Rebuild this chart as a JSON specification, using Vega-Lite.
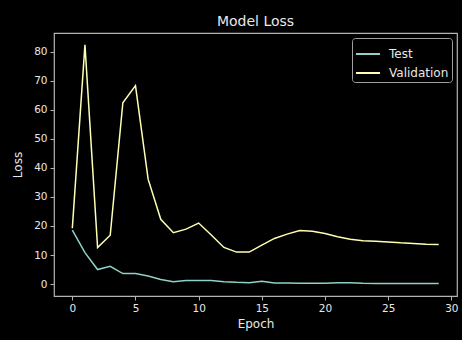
{
  "$schema": "https://vega.github.io/schema/vega-lite/v6.json",
  "autosize": {"type": "none"},
  "padding": {"left": 54, "top": 33, "right": 5, "bottom": 44},
  "width": 403,
  "height": 263,
  "background": "#000000",
  "title": {"text": "Model Loss", "color": "#e8e8e8", "font": "DejaVu Sans", "fontSize": 14, "fontWeight": "normal", "offset": 4},
  "config": {
    "view": {"stroke": "#b4b4b4", "strokeWidth": 1.2, "fill": "#000000"},
    "axis": {
      "domain": false, "grid": false,
      "tickColor": "#b4b4b4", "tickSize": 4, "tickWidth": 1,
      "labelColor": "#e8e8e8", "labelFont": "DejaVu Sans", "labelFontSize": 10.5,
      "titleColor": "#e8e8e8", "titleFont": "DejaVu Sans", "titleFontSize": 12, "titleFontWeight": "normal"
    }
  },
  "data": {
    "values": [
      {"epoch": 0, "series": "Test", "loss": 18.6},
      {"epoch": 1, "series": "Test", "loss": 10.8},
      {"epoch": 2, "series": "Test", "loss": 5.0},
      {"epoch": 3, "series": "Test", "loss": 6.1},
      {"epoch": 4, "series": "Test", "loss": 3.6},
      {"epoch": 5, "series": "Test", "loss": 3.6},
      {"epoch": 6, "series": "Test", "loss": 2.8},
      {"epoch": 7, "series": "Test", "loss": 1.6},
      {"epoch": 8, "series": "Test", "loss": 0.8},
      {"epoch": 9, "series": "Test", "loss": 1.2},
      {"epoch": 10, "series": "Test", "loss": 1.2},
      {"epoch": 11, "series": "Test", "loss": 1.2},
      {"epoch": 12, "series": "Test", "loss": 0.8},
      {"epoch": 13, "series": "Test", "loss": 0.6},
      {"epoch": 14, "series": "Test", "loss": 0.5},
      {"epoch": 15, "series": "Test", "loss": 1.0},
      {"epoch": 16, "series": "Test", "loss": 0.4},
      {"epoch": 17, "series": "Test", "loss": 0.4},
      {"epoch": 18, "series": "Test", "loss": 0.3},
      {"epoch": 19, "series": "Test", "loss": 0.3},
      {"epoch": 20, "series": "Test", "loss": 0.3},
      {"epoch": 21, "series": "Test", "loss": 0.5},
      {"epoch": 22, "series": "Test", "loss": 0.5},
      {"epoch": 23, "series": "Test", "loss": 0.3},
      {"epoch": 24, "series": "Test", "loss": 0.2},
      {"epoch": 25, "series": "Test", "loss": 0.2},
      {"epoch": 26, "series": "Test", "loss": 0.2},
      {"epoch": 27, "series": "Test", "loss": 0.2},
      {"epoch": 28, "series": "Test", "loss": 0.2},
      {"epoch": 29, "series": "Test", "loss": 0.2},
      {"epoch": 0, "series": "Validation", "loss": 19.2},
      {"epoch": 1, "series": "Validation", "loss": 82.3},
      {"epoch": 2, "series": "Validation", "loss": 12.6},
      {"epoch": 3, "series": "Validation", "loss": 16.8},
      {"epoch": 4, "series": "Validation", "loss": 62.4},
      {"epoch": 5, "series": "Validation", "loss": 68.3},
      {"epoch": 6, "series": "Validation", "loss": 36.1},
      {"epoch": 7, "series": "Validation", "loss": 22.3},
      {"epoch": 8, "series": "Validation", "loss": 17.7},
      {"epoch": 9, "series": "Validation", "loss": 18.9},
      {"epoch": 10, "series": "Validation", "loss": 21.0},
      {"epoch": 11, "series": "Validation", "loss": 16.9},
      {"epoch": 12, "series": "Validation", "loss": 12.6},
      {"epoch": 13, "series": "Validation", "loss": 11.0},
      {"epoch": 14, "series": "Validation", "loss": 11.0},
      {"epoch": 15, "series": "Validation", "loss": 13.4},
      {"epoch": 16, "series": "Validation", "loss": 15.7},
      {"epoch": 17, "series": "Validation", "loss": 17.2},
      {"epoch": 18, "series": "Validation", "loss": 18.4},
      {"epoch": 19, "series": "Validation", "loss": 18.2},
      {"epoch": 20, "series": "Validation", "loss": 17.4},
      {"epoch": 21, "series": "Validation", "loss": 16.3},
      {"epoch": 22, "series": "Validation", "loss": 15.4},
      {"epoch": 23, "series": "Validation", "loss": 14.9},
      {"epoch": 24, "series": "Validation", "loss": 14.7},
      {"epoch": 25, "series": "Validation", "loss": 14.5},
      {"epoch": 26, "series": "Validation", "loss": 14.2},
      {"epoch": 27, "series": "Validation", "loss": 14.0},
      {"epoch": 28, "series": "Validation", "loss": 13.7},
      {"epoch": 29, "series": "Validation", "loss": 13.6}
    ]
  },
  "mark": {"type": "line", "strokeWidth": 1.5, "clip": true},
  "encoding": {
    "x": {
      "field": "epoch", "type": "quantitative", "title": "Epoch",
      "scale": {"domain": [-1.45, 30.45], "nice": false, "zero": false},
      "axis": {"values": [0, 5, 10, 15, 20, 25, 30], "titlePadding": 5, "labelPadding": 3}
    },
    "y": {
      "field": "loss", "type": "quantitative", "title": "Loss",
      "scale": {"domain": [-4.1, 86.4], "nice": false, "zero": false},
      "axis": {"values": [0, 10, 20, 30, 40, 50, 60, 70, 80], "titlePadding": 9, "labelPadding": 3}
    },
    "color": {
      "field": "series", "type": "nominal",
      "scale": {"domain": ["Test", "Validation"], "range": ["#8dd3c7", "#feffb3"]},
      "legend": {
        "title": null, "orient": "top-right", "offset": 5,
        "symbolType": "stroke", "symbolSize": 576, "symbolStrokeWidth": 2,
        "labelColor": "#e8e8e8", "labelFont": "DejaVu Sans", "labelFontSize": 12, "labelOffset": 8,
        "rowPadding": -5, "padding": 3, "cornerRadius": 3,
        "strokeColor": "#a0a0a0", "fillColor": "#000000"
      }
    }
  }
}
